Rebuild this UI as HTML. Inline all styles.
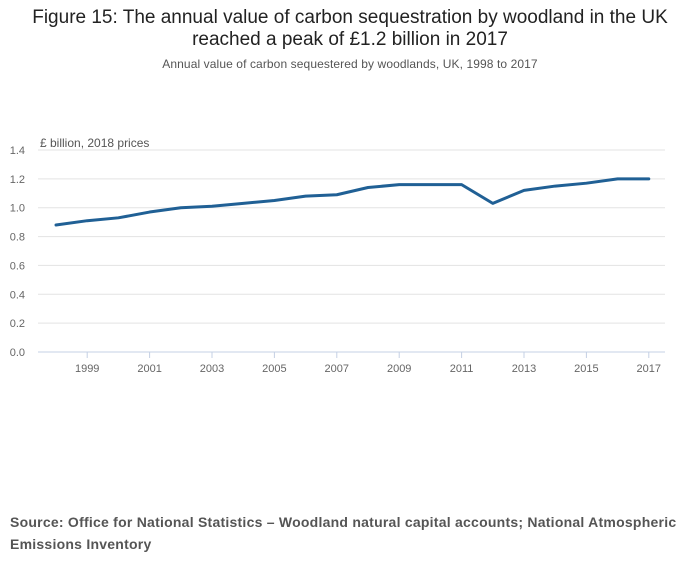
<!DOCTYPE html>
<html><head><meta charset="utf-8">
<style>
body{margin:0;width:700px;height:574px;background:#fff;font-family:"Liberation Sans","DejaVu Sans",sans-serif;overflow:hidden}
#title{position:absolute;top:7px;left:0;width:700px;text-align:center;font-size:19px;line-height:22px;color:#222}
#subtitle{position:absolute;top:57px;left:0;width:700px;text-align:center;font-size:12px;color:#555;letter-spacing:0.1px}
#source{position:absolute;top:511px;left:10px;font-size:14px;font-weight:bold;color:#555;line-height:22px;letter-spacing:0.24px;white-space:nowrap}
svg{position:absolute;left:0;top:0}
</style></head><body>
<div id="title">Figure 15: The annual value of carbon sequestration by woodland in the UK<br>reached a peak of £1.2 billion in 2017</div>
<div id="subtitle">Annual value of carbon sequestered by woodlands, UK, 1998 to 2017</div>
<svg id="chart" width="700" height="574"></svg>
<div id="source">Source: Office for National Statistics – Woodland natural capital accounts; National Atmospheric<br>Emissions Inventory</div>
<script>
const years=[1998,1999,2000,2001,2002,2003,2004,2005,2006,2007,2008,2009,2010,2011,2012,2013,2014,2015,2016,2017];
const values=[0.88,0.91,0.93,0.97,1.00,1.01,1.03,1.05,1.08,1.09,1.14,1.16,1.16,1.16,1.03,1.12,1.15,1.17,1.20,1.20];
const yTicks=[0,0.2,0.4,0.6,0.8,1.0,1.2,1.4];
const xTicks=[1999,2001,2003,2005,2007,2009,2011,2013,2015,2017];
const svg=document.getElementById('chart');
const NS='http://www.w3.org/2000/svg';
const x=v=>56+(v-1998)*31.2;
const y=v=>352-v*(202/1.4);
function mk(t,a){const e=document.createElementNS(NS,t);for(const k in a)e.setAttribute(k,a[k]);svg.appendChild(e);return e;}
yTicks.forEach(t=>{
  const g=mk('line',{x1:38,x2:665,y1:y(t),y2:y(t),stroke:t===0?'#c4d0e4':'#e3e3e3','stroke-width':1});
  
  
  const l=mk('text',{x:25,y:y(t)+4,'font-size':11,fill:'#666','text-anchor':'end'});
  l.textContent=t.toFixed(1);
  
  
});
xTicks.forEach(t=>{
  const tk=mk('line',{x1:x(t),x2:x(t),y1:352,y2:358,stroke:'#c4d0e4','stroke-width':1});
  
  
  const l=mk('text',{x:x(t),y:372,'font-size':11,fill:'#666','text-anchor':'middle'});
  l.textContent=t;
  
  
});
const yt=mk('text',{x:40,y:147,'font-size':12,fill:'#555'});
yt.textContent='£ billion, 2018 prices';


const p=mk('polyline',{points:years.map((yr,i)=>x(yr)+','+y(values[i])).join(' '),fill:'none',stroke:'#206095','stroke-width':3,'stroke-linejoin':'round','stroke-linecap':'round'});


</script>
</body></html>
